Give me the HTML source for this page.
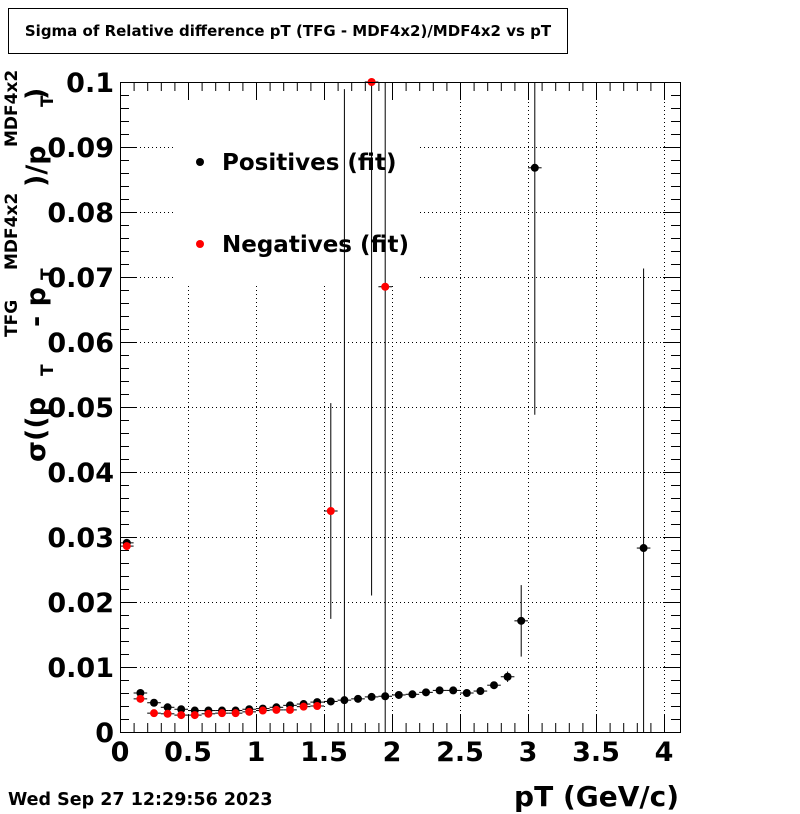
<!DOCTYPE html>
<html><head><meta charset="utf-8"><style>
body{margin:0;background:#fff}
svg{display:block;font-family:"DejaVu Sans","Liberation Sans",sans-serif;font-weight:bold}
</style></head><body>
<svg id="chart" width="800" height="814" viewBox="0 0 800 814">
<rect x="0" y="0" width="800" height="814" fill="#fff"/>
<rect x="8.5" y="8.5" width="559" height="45" fill="#fff" stroke="#000"/>
<text x="288" y="36" font-size="15" text-anchor="middle">Sigma of Relative difference pT (TFG - MDF4x2)/MDF4x2 vs pT</text>
<g id="grid"></g>
<rect x="175" y="100" width="245" height="185" fill="#fff"/>
<g id="axes"></g>
<g id="marks"></g>
<rect x="120.5" y="82.5" width="560" height="650" fill="none" stroke="#000"/>
<g>
<circle cx="200" cy="162" r="4" fill="#000"/>
<text x="222" y="170" font-size="23">Positives (fit)</text>
<circle cx="200" cy="244" r="4" fill="#f00"/>
<text x="222" y="252" font-size="23">Negatives (fit)</text>
</g>
<text x="679" y="806" font-size="28" text-anchor="end">pT (GeV/c)</text>
<text x="8" y="805" font-size="17.5">Wed Sep 27 12:29:56 2023</text>
<g transform="translate(45,462) rotate(-90)">
<text x="0" y="0" font-size="27">σ((p</text>
<text x="125" y="-28" font-size="17">TFG</text>
<text x="86" y="8" font-size="17">T</text>
<text x="135" y="0" font-size="27">- p</text>
<text x="192" y="-28" font-size="17">MDF4x2</text>
<text x="182" y="8" font-size="17">T</text>
<text x="275" y="0" font-size="27">)/p</text>
<text x="315" y="-28" font-size="17">MDF4x2</text>
<text x="355" y="8" font-size="17">T</text>
<text x="362" y="0" font-size="27">)</text>
</g>
</svg>
<script>
const posX=[0.05,0.15,0.25,0.35,0.45,0.55,0.65,0.75,0.85,0.95,1.05,1.15,1.25,1.35,1.45,1.55,1.65,1.75,1.85,1.95,2.05,2.15,2.25,2.35,2.45,2.55,2.65,2.75,2.85,2.95,3.05,3.85];
const posY=[0.0291,0.0060,0.0045,0.0038,0.0035,0.0033,0.0033,0.0033,0.0033,0.0035,0.0036,0.0038,0.0041,0.0043,0.0046,0.0047,0.0049,0.0051,0.0054,0.0055,0.0057,0.0058,0.0061,0.0064,0.0064,0.0060,0.0063,0.0072,0.0085,0.0171,0.0868,0.0283];
const posErr=[0.0006,0.0005,0.0004,0.0003,0.0003,0.0003,0.0003,0.0003,0.0003,0.0003,0.0003,0.0003,0.0003,0.0003,0.0003,0.0003,0.094,0.0003,0.0003,0.1,0.0003,0.0003,0.0003,0.0003,0.0003,0.0003,0.0003,0.0004,0.0008,0.0055,0.038,0.043];
const negX=[0.05,0.15,0.25,0.35,0.45,0.55,0.65,0.75,0.85,0.95,1.05,1.15,1.25,1.35,1.45,1.55,1.85,1.95];
const negY=[0.0286,0.0051,0.0029,0.0028,0.0026,0.0026,0.0028,0.0029,0.0029,0.0031,0.0033,0.0034,0.0034,0.0039,0.0040,0.034,0.1,0.0685];
const negErr=[0.0006,0.0004,0.0003,0.0003,0.0003,0.0003,0.0003,0.0003,0.0003,0.0003,0.0003,0.0003,0.0003,0.0003,0.0003,0.0166,0.079,0.0003];
const xTicks=[0,0.5,1,1.5,2,2.5,3,3.5,4];
const xTickLabels=["0","0.5","1","1.5","2","2.5","3","3.5","4"];
const yTicks=[0,0.01,0.02,0.03,0.04,0.05,0.06,0.07,0.08,0.09,0.1];
const yTickLabels=["0","0.01","0.02","0.03","0.04","0.05","0.06","0.07","0.08","0.09","0.1"];
const X0=120,X1=680,Y0=732,Y1=82,XMAX=560/136,YMAX=0.1;
const sx=v=>X0+v/XMAX*(X1-X0);
const sy=v=>Y0-v/YMAX*(Y0-Y1);
const NS="http://www.w3.org/2000/svg";
function mk(parent,tag,attrs){const e=document.createElementNS(NS,tag);for(const k in attrs)e.setAttribute(k,attrs[k]);parent.appendChild(e);return e;}
const grid=document.getElementById('grid'),axes=document.getElementById('axes'),marks=document.getElementById('marks');
xTicks.forEach((t,i)=>{const x=sx(t)+0.5;
 if(t>0){const g=mk(grid,'line',{x1:x,x2:x,y1:Y1,y2:Y0,stroke:'#000','stroke-dasharray':'1,3'});
 
 }
 const l=mk(axes,'text',{x:sx(t),y:761,'font-size':27,'text-anchor':'middle'});l.textContent=xTickLabels[i];
 
 });
for(let v=0;v<=4.1;v+=0.1){const x=sx(v)+0.5;const major=Math.abs(v*2-Math.round(v*2))<1e-6;const len=major?18:9;
 mk(axes,'line',{x1:x,x2:x,y1:Y0,y2:Y0-len,stroke:'#000'});mk(axes,'line',{x1:x,x2:x,y1:Y1,y2:Y1+len,stroke:'#000'});}
yTicks.forEach((t,i)=>{const y=sy(t)+0.5;
 if(t>0&&t<0.1){const g=mk(grid,'line',{x1:X0,x2:X1,y1:y,y2:y,stroke:'#000','stroke-dasharray':'1,3'});
 
 }
 const l=mk(axes,'text',{x:114,y:sy(t)+10,'font-size':27,'text-anchor':'end'});l.textContent=yTickLabels[i];
 
 });
for(let k=0;k<=50;k++){const v=k*0.002;const y=sy(v)+0.5;const len=k%5==0?17:9;
 mk(axes,'line',{x1:X0,x2:X0+len,y1:y,y2:y,stroke:'#000'});mk(axes,'line',{x1:X1,x2:X1-len,y1:y,y2:y,stroke:'#000'});}
function series(xs,ys,es,col,name){xs.forEach((xv,i)=>{
 const cx=sx(xv),cy=sy(ys[i]);
 const top=Math.max(Y1,sy(ys[i]+es[i])),bot=Math.min(Y0,sy(ys[i]-es[i]));
 mk(marks,'line',{x1:sx(xv-0.05),x2:sx(xv+0.05),y1:cy,y2:cy,stroke:'#000'});
 mk(marks,'line',{x1:cx,x2:cx,y1:top,y2:bot,stroke:'#000'});
 const c=mk(marks,'circle',{cx:cx,cy:cy,r:4,fill:col});
 
 });}
series(posX,posY,posErr,'#000','positives-point');
series(negX,negY,negErr,'#f00','negatives-point');
</script>
</body></html>
